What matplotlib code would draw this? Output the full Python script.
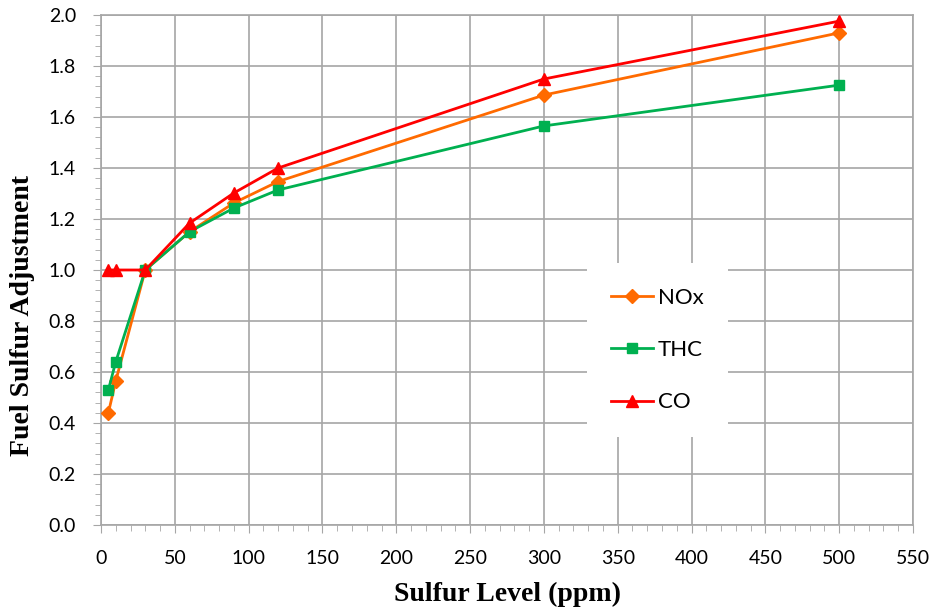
import matplotlib.pyplot as plt
from matplotlib.ticker import MultipleLocator

# sulfur level (ppm) and adjustment factors
sulfur = [5, 10, 30, 60, 90, 120, 300, 500]
nox = [0.44, 0.565, 1.0, 1.15, 1.263, 1.347, 1.686, 1.93]
thc = [0.53, 0.64, 1.0, 1.15, 1.243, 1.314, 1.565, 1.725]
co = [1.0, 1.0, 1.0, 1.184, 1.302, 1.40, 1.749, 1.976]

plt.rcParams['font.family'] = ['Lato', 'DejaVu Sans']

fig = plt.figure(figsize=(9.38, 6.12), dpi=100)
ax = fig.add_axes([101 / 938, 1 - 525 / 612, 812 / 938, 510 / 612])

ax.plot(sulfur, nox, color='#FF6A00', marker='D', markersize=7, lw=2, label='NOx', zorder=3)
ax.plot(sulfur, thc, color='#00B050', marker='s', markersize=7, lw=2, label='THC', zorder=3)
ax.plot(sulfur, co, color='#FF0000', marker='^', markersize=8, lw=2, label='CO', zorder=4)

ax.set_xlim(0, 550)
ax.set_ylim(0, 2.0)
ax.xaxis.set_major_locator(MultipleLocator(50))
ax.xaxis.set_minor_locator(MultipleLocator(10))
ax.yaxis.set_major_locator(MultipleLocator(0.2))
ax.yaxis.set_minor_locator(MultipleLocator(0.04))
ax.yaxis.set_major_formatter(plt.FuncFormatter(lambda v, p: f'{v:.1f}'))

ax.grid(True, which='major', color='#A6A6A6', lw=1.2)
for s in ax.spines.values():
    s.set_color('#A6A6A6')
    s.set_linewidth(1.2)
ax.tick_params(which='major', direction='out', length=6, color='#A6A6A6', labelsize=14, pad=4)
ax.tick_params(which='minor', direction='out', length=4, color='#A6A6A6')
ax.tick_params(axis='x', which='major', pad=12)
ax.tick_params(axis='y', which='major', pad=12)

ax.set_xlabel('Sulfur Level (ppm)', family='Liberation Serif', fontweight='bold', fontsize=20)
ax.set_ylabel('Fuel Sulfur Adjustment', family='Liberation Serif', fontweight='bold', fontsize=20)
ax.xaxis.set_label_coords(0.5, -0.137)
ax.yaxis.set_label_coords(-0.097, 0.41)
ax.xaxis.label.set_va('center')
ax.yaxis.label.set_va('center')

leg = ax.legend(loc='center', bbox_to_anchor=(0.685, 0.343), frameon=True, fontsize=16,
                labelspacing=1.45, handlelength=1.9, handletextpad=0.2, borderpad=1.1,
                borderaxespad=0, fancybox=False)
leg.get_frame().set_facecolor('white')
leg.get_frame().set_edgecolor('none')
leg.get_frame().set_alpha(1)

fig.savefig('out.png', dpi=100)
